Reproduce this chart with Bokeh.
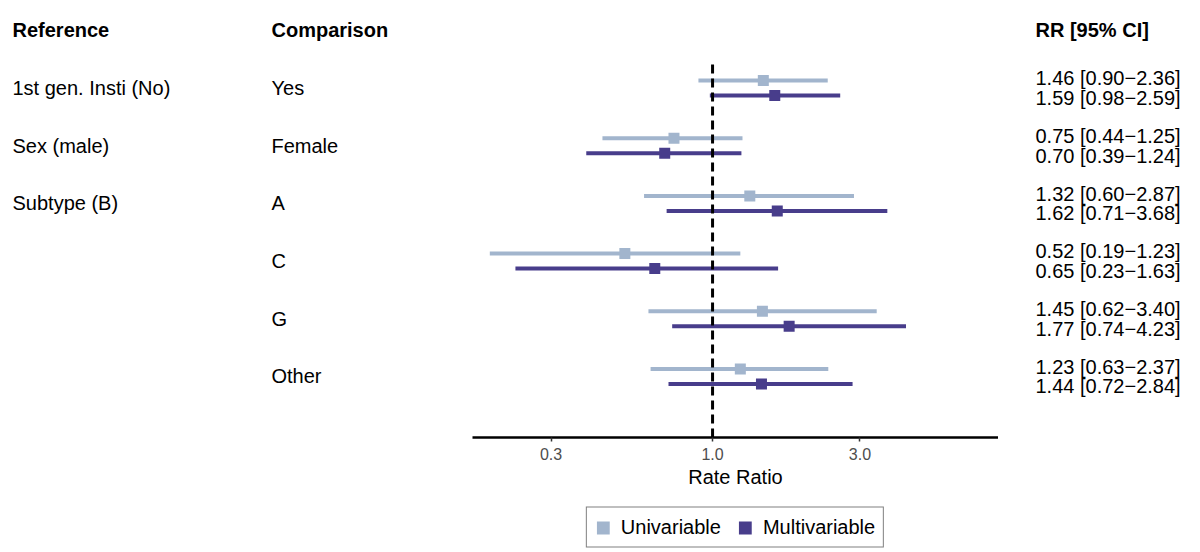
from bokeh.plotting import figure
from bokeh.layouts import row, column
from bokeh.models import (ColumnDataSource, Range1d, FixedTicker, PrintfTickFormatter,
                          Legend, LegendItem, Spacer)
from bokeh.core.properties import value
from bokeh.embed import file_html
from bokeh.resources import INLINE

# ---- data ----
reference = ["1st gen. Insti (No)", "Sex (male)", "Subtype (B)", "", "", ""]
comparison = ["Yes", "Female", "A", "C", "G", "Other"]
uni_est = [1.46, 0.75, 1.32, 0.52, 1.45, 1.23]
uni_lo = [0.90, 0.44, 0.60, 0.19, 0.62, 0.63]
uni_hi = [2.36, 1.25, 2.87, 1.23, 3.40, 2.37]
multi_est = [1.59, 0.70, 1.62, 0.65, 1.77, 1.44]
multi_lo = [0.98, 0.39, 0.71, 0.23, 0.74, 0.72]
multi_hi = [2.59, 1.24, 3.68, 1.63, 4.23, 2.84]
tick_values = [0.3, 1.0, 3.0]
headers = ["Reference", "Comparison", "RR [95% CI]"]
series_names = ["Univariable", "Multivariable"]

UNI_COL = "#A2B5CD"
MULTI_COL = "#483D8B"
FONT = "Liberation Sans"
FS = "20px"
TOP = 8
H = 502
BOTTOM = 65
LEG_H = 50

n = len(comparison)
row_y = [-i for i in range(n)]
uni_y = [y + 0.13 for y in row_y]
multi_y = [y - 0.13 for y in row_y]
yr = Range1d(-6.06, 1.38)


def base_fig(width, height=H, bottom=BOTTOM, top=TOP, **kw):
    p = figure(width=width, height=height, output_backend="svg",
               toolbar_location=None, min_border_left=0, min_border_right=0,
               min_border_top=top, min_border_bottom=bottom, **kw)
    p.outline_line_color = None
    p.background_fill_color = "white"
    p.border_fill_color = "white"
    return p


# ---- left table ----
left = base_fig(472, x_range=Range1d(0, 472), y_range=yr,
                x_axis_location=None, y_axis_location=None)
left.grid.visible = False
left.text(x=[12, 271], y=[1, 1], text=headers[:2], text_font=value(FONT),
          text_font_size=FS, text_font_style="bold", text_baseline="middle",
          text_align="left", text_color="black")
left.text(x=[12] * n, y=row_y, text=reference, text_font=value(FONT), text_font_size=FS,
          text_baseline="middle", text_align="left", text_color="black")
left.text(x=[271] * n, y=row_y, text=comparison, text_font=value(FONT), text_font_size=FS,
          text_baseline="middle", text_align="left", text_color="black")

# ---- forest plot ----
mid = base_fig(526, x_axis_type="log", x_range=Range1d(0.167, 8.43), y_range=yr,
               y_axis_location=None)
mid.grid.visible = False
su = ColumnDataSource(dict(est=uni_est, lo=uni_lo, hi=uni_hi, y=uni_y))
sm = ColumnDataSource(dict(est=multi_est, lo=multi_lo, hi=multi_hi, y=multi_y))
mid.segment(x0="lo", x1="hi", y0="y", y1="y", source=su, line_color=UNI_COL, line_width=4)
mid.rect(x="est", y="y", width=11, height=11, width_units="screen",
         height_units="screen", source=su, fill_color=UNI_COL, line_color=None)
mid.segment(x0="lo", x1="hi", y0="y", y1="y", source=sm, line_color=MULTI_COL, line_width=4)
mid.rect(x="est", y="y", width=11, height=11, width_units="screen",
         height_units="screen", source=sm, fill_color=MULTI_COL, line_color=None)
mid.segment(x0=[1.0], x1=[1.0], y0=[-6.06], y1=[0.47], line_color="black",
            line_width=3, line_dash="9 5")

ax = mid.xaxis[0]
ax.ticker = FixedTicker(ticks=tick_values, minor_ticks=[])
ax.formatter = PrintfTickFormatter(format="%.1f")
ax.axis_label = "Rate Ratio"
ax.axis_label_text_font = FONT
ax.axis_label_text_font_size = FS
ax.axis_label_text_font_style = "normal"
ax.axis_label_text_color = "black"
ax.axis_label_standoff = 3
ax.major_label_text_font = FONT
ax.major_label_text_font_size = "16px"
ax.major_label_text_color = "#4D4D4D"
ax.major_label_standoff = 6
ax.axis_line_color = "black"
ax.axis_line_width = 2.5
ax.major_tick_line_color = "#333333"
ax.major_tick_line_width = 1.5
ax.major_tick_out = 4
ax.major_tick_in = 0
ax.minor_tick_line_color = None

# ---- right RR column ----
right = base_fig(202, x_range=Range1d(0, 202), y_range=yr,
                 x_axis_location=None, y_axis_location=None)
right.grid.visible = False
right.text(x=[37], y=[1], text=[headers[2]], text_font=value(FONT), text_font_size=FS,
           text_font_style="bold", text_baseline="middle", text_align="left", text_color="black")
uni_txt = [f"{e:.2f} [{l:.2f}\u2212{h:.2f}]" for e, l, h in zip(uni_est, uni_lo, uni_hi)]
multi_txt = [f"{e:.2f} [{l:.2f}\u2212{h:.2f}]" for e, l, h in zip(multi_est, multi_lo, multi_hi)]
right.text(x=[37] * n, y=[y + 0.17 for y in row_y], text=uni_txt, text_font=value(FONT),
           text_font_size=FS, text_baseline="middle", text_align="left", text_color="black")
right.text(x=[37] * n, y=[y - 0.17 for y in row_y], text=multi_txt, text_font=value(FONT),
           text_font_size=FS, text_baseline="middle", text_align="left", text_color="black")

# ---- legend strip ----
leg = base_fig(526, height=LEG_H, bottom=0, top=0, x_range=Range1d(0, 1), y_range=Range1d(0, 1),
               x_axis_location=None, y_axis_location=None)
leg.grid.visible = False
# placeholder glyphs (outside the visible range) that only feed the legend swatches
lu = leg.rect(x=[5], y=[5], width=1, height=1, fill_color=UNI_COL, line_color=None)
lm = leg.rect(x=[5], y=[5], width=1, height=1, fill_color=MULTI_COL, line_color=None)
legend = Legend(items=[LegendItem(label=series_names[0], renderers=[lu]),
                       LegendItem(label=series_names[1], renderers=[lm])],
                orientation="horizontal", location="center",
                border_line_color="black", border_line_width=1.5,
                padding=8, spacing=16, label_standoff=10,
                glyph_width=16, glyph_height=16, margin=0,
                label_text_font=FONT, label_text_font_size=FS,
                label_text_color="black", background_fill_alpha=1.0)
leg.add_layout(legend, "center")

layout = column(row(left, mid, right), row(Spacer(width=472, height=LEG_H), leg))
open("out.html", "w").write(file_html(layout, INLINE))
